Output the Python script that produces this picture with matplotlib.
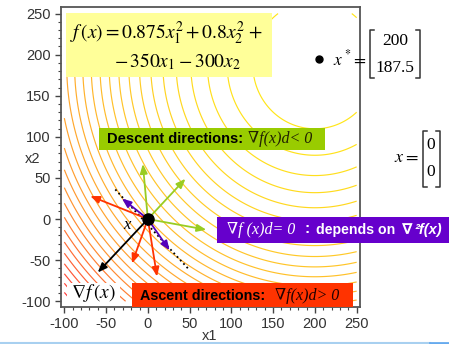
import numpy as np
import matplotlib.pyplot as plt
from matplotlib.colors import LinearSegmentedColormap
from matplotlib.patches import Rectangle
from matplotlib.lines import Line2D
from matplotlib.ticker import MultipleLocator

plt.rcParams['font.family'] = ['Liberation Sans', 'DejaVu Sans']
plt.rcParams['mathtext.fontset'] = 'stix'
plt.rcParams['axes.unicode_minus'] = False

# f(x) = 0.875 x1^2 + 0.8 x2^2 - 350 x1 - 300 x2
coef_sq = [0.875, 0.8]
coef_lin = [-350, -300]
x_star = [200, 187.5]
x_now = [0, 0]
grid_range = [-100, 250]
n_levels = 29

# arrow tips (x1, x2), all drawn from x_now
grad_tip = [-60, -65]
ascent_tips = [[-69, 28], [-19, -54], [11, -70]]
descent_tips = [[-6, 67], [45, 49], [70, -13]]
tangent_tips = [[-31, 25], [26, -38]]
tangent_line = [[-39, 48], [36, -60]]   # x1 values, x2 values

ticks = [-100, -50, 0, 50, 100, 150, 200, 250]

W, H = 449, 344
fig = plt.figure(figsize=(W / 100, H / 100), dpi=100)

# helpers: pixel position -> figure fraction
def fx(x):
    return x / W

def fy(y):
    return 1 - y / H

ax = fig.add_axes([fx(61), fy(307), (360 - 61) / W, (307 - 7) / H])

g = np.linspace(grid_range[0], grid_range[1], 400)
X1, X2 = np.meshgrid(g, g)
F = coef_sq[0] * X1**2 + coef_sq[1] * X2**2 + coef_lin[0] * X1 + coef_lin[1] * X2
levels = np.linspace(F.min(), F.max(), n_levels + 2)[1:-1]
cmap = LinearSegmentedColormap.from_list('zhue', ['#FFE619', '#FFC42A', '#FF9630', '#FF3A3A'])
ax.contour(X1, X2, F, levels=levels, cmap=cmap, linewidths=0.85)

ax.set_xlim(-104, 254)
ax.set_ylim(-107, 258)
ax.set_xticks(ticks)
ax.set_yticks(ticks)
ax.xaxis.set_minor_locator(MultipleLocator(10))
ax.yaxis.set_minor_locator(MultipleLocator(10))
ax.tick_params(which='both', direction='out', top=False, right=False,
               colors='#444444', labelcolor='#333333', labelsize=10.5)
ax.tick_params(which='major', length=4, width=1)
ax.tick_params(which='minor', length=2, width=0.8)
for s in ax.spines.values():
    s.set_color('#555555')
    s.set_linewidth(1.3)

fig.text(fx(210), fy(336), 'x1', ha='center', va='center', fontsize=10.5, color='#333333')
fig.text(fx(33), fy(159), 'x2', ha='center', va='center', fontsize=10.5, color='#333333')

# directions
def arrow(tip, color):
    ax.annotate('', xy=tip, xytext=x_now,
                arrowprops=dict(arrowstyle='-|>,head_length=0.55,head_width=0.22',
                                color=color, lw=1.3, shrinkA=0, shrinkB=0))

ax.plot(tangent_line[0], tangent_line[1], ls=':', color='black', lw=1.3)
for t in ascent_tips:
    arrow(t, '#FF3300')
for t in descent_tips:
    arrow(t, '#99CC22')
for t in tangent_tips:
    arrow(t, '#5500BB')
arrow(grad_tip, 'black')
ax.plot(*x_now, 'o', color='black', ms=8, zorder=5)
ax.text(-25, -7, 'x', fontsize=12, family='Liberation Serif', style='italic', ha='center', va='center')

# boxes (pixel coords)
def box(x0, y0, x1, y1, color):
    fig.add_artist(Rectangle((fx(x0), fy(y1)), (x1 - x0) / W, (y1 - y0) / H,
                             transform=fig.transFigure, facecolor=color, edgecolor='none', zorder=3))

serif_i = dict(family=['Liberation Serif', 'DejaVu Serif'], style='italic')

box(66, 13, 272, 77, '#FFFF99')
fig.text(fx(70), fy(33), r'$f\,(x) = 0.875x_1^2 + 0.8x_2^2\, +$', fontsize=14, va='center', zorder=4)
fig.text(fx(114), fy(62), r'$-\,350x_1 - 300x_2$', fontsize=14, va='center', zorder=4)

box(99, 128, 325, 150, '#99CC00')
fig.text(fx(107), fy(139), 'Descent directions:', fontsize=10.5, weight='bold', va='center', zorder=4)
fig.text(fx(248), fy(139), '∇f(x)d< 0', fontsize=11.5, va='center', color='#222200', zorder=4, **serif_i)

box(217, 217, 449, 243, '#6600CC')
fig.text(fx(227), fy(230), '∇f (x)d= 0', fontsize=11.5, va='center', color='white', zorder=4, **serif_i)
fig.text(fx(304), fy(229), ':', fontsize=11, weight='bold', va='center', color='white', zorder=4)
fig.text(fx(316), fy(230), 'depends on', fontsize=10.2, weight='bold', va='center', color='white', zorder=4)
fig.text(fx(402), fy(230), '∇', fontsize=11, weight='bold', va='center',
         color='white', zorder=4, family='DejaVu Sans')
fig.text(fx(414), fy(230), '²f(x)', fontsize=10.5, weight='bold', style='italic', va='center',
         color='white', zorder=4)

box(132, 283, 353, 307, '#FF3300')
fig.text(fx(140), fy(296), 'Ascent directions:', fontsize=10.4, weight='bold', va='center', zorder=4)
fig.text(fx(275), fy(296), '∇f(x)d> 0', fontsize=11.5, va='center', color='#220000', zorder=4, **serif_i)

box(67, 283, 120, 305, 'white')
fig.text(fx(93), fy(293), r'$\nabla f\,(x)$', fontsize=14, ha='center', va='center', zorder=4)

# x* and x outside the axes
fig.add_artist(Line2D([fx(319)], [fy(59)], marker='o', ms=5, color='black', transform=fig.transFigure))
fig.text(fx(333), fy(58), r'$x^*\!=$', fontsize=12.5, va='center')
fig.text(fx(395), fy(41), f'{x_star[0]:g}', fontsize=12.5, ha='center', va='center', family='Liberation Serif')
fig.text(fx(395), fy(68), f'{x_star[1]:g}', fontsize=12.5, ha='center', va='center', family='Liberation Serif')

fig.text(fx(419), fy(158), r'$x =$', fontsize=13, ha='right', va='center')
fig.text(fx(431), fy(145), f'{x_now[0]:g}', fontsize=12.5, ha='center', va='center', family='Liberation Serif')
fig.text(fx(431), fy(172), f'{x_now[1]:g}', fontsize=12.5, ha='center', va='center', family='Liberation Serif')

def bracket(x, y0, y1, side):
    d = 4 * side
    fig.add_artist(Line2D([fx(x + d), fx(x), fx(x), fx(x + d)], [fy(y0), fy(y0), fy(y1), fy(y1)],
                          color='#333333', lw=1.1, transform=fig.transFigure))

bracket(370, 30, 78, 1)
bracket(420, 30, 78, -1)
bracket(423, 131, 187, 1)
bracket(440, 131, 187, -1)

# slide edge line at the bottom
fig.add_artist(Line2D([0, fx(430)], [fy(343), fy(343)], color='#A8D0F0', lw=1.5, transform=fig.transFigure))
fig.add_artist(Line2D([fx(430), 1], [fy(343), fy(343)], color='#66AAEE', lw=2, transform=fig.transFigure))

fig.savefig('out.png', dpi=100)
